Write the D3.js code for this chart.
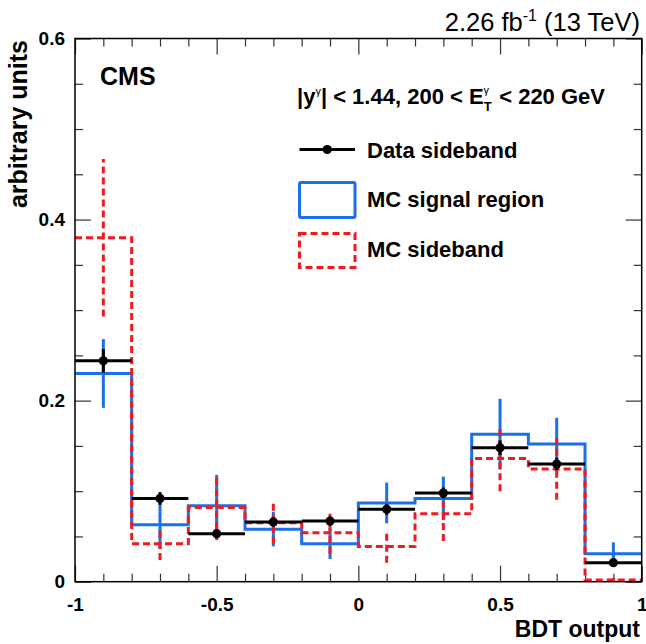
<!DOCTYPE html>
<html><head><meta charset="utf-8">
<script src="https://cdn.jsdelivr.net/npm/d3@7"></script>
<style>
html,body{margin:0;padding:0;background:#fff;}
svg{display:block;font-family:"Liberation Sans",Arial,Helvetica,sans-serif;}
</style></head>
<body>
<svg id="chart" width="646" height="644"></svg>
<script>
// ---- data ----
const binLow = [-1, -0.8, -0.6, -0.4, -0.2, 0, 0.2, 0.4, 0.6, 0.8];
const binWidth = 0.2;
const dataVals = [0.244, 0.092, 0.053, 0.066, 0.067, 0.080, 0.098, 0.148, 0.130, 0.021];
const dataErr  = [0.013, 0.007, 0.005, 0.005, 0.005, 0.006, 0.006, 0.008, 0.007, 0.004];
const sigVals  = [0.230, 0.063, 0.084, 0.058, 0.042, 0.087, 0.092, 0.163, 0.152, 0.031];
const sigErr   = [0.038, 0.027, 0.034, 0.019, 0.017, 0.0225, 0.024, 0.039, 0.029, 0.0125];
const sbVals   = [0.380, 0.042, 0.082, 0.065, 0.054, 0.039, 0.075, 0.136, 0.1245, 0.002];
const sbErr    = [0.087, 0.018, 0.036, 0.023, 0.023, 0.018, 0.030, 0.036, 0.034, 0.002];
const xMajorTicks = [-1, -0.5, 0, 0.5, 1];
const xMinorTicks = [-0.9,-0.8,-0.7,-0.6,-0.4,-0.3,-0.2,-0.1,0.1,0.2,0.3,0.4,0.6,0.7,0.8,0.9];
const yMajorTicks = [0, 0.2, 0.4, 0.6];
const yMinorTicks = [0.05,0.1,0.15,0.25,0.3,0.35,0.45,0.5,0.55];
const xTickLabels = ["-1", "-0.5", "0", "0.5", "1"];
const yTickLabels = ["0", "0.2", "0.4", "0.6"];

const BLUE = "#1a6fea", RED = "#ee1b22";

const svg = d3.select("#chart");
const L = 75, R = 641.7, T = 38.5, B = 581.7;
const x = d3.scaleLinear().domain([-1, 1]).range([L, R]);
const y = d3.scaleLinear().domain([0, 0.6]).range([B, T]);

// ---- axes ----
function styleAxis(g) {
  g.select(".domain").remove();
  g.selectAll(".tick line").attr("stroke", "#333").attr("stroke-width", 1.2);
  g.selectAll(".tick text").attr("font-weight", "bold").attr("font-size", 19)
    .attr("fill", "#000").attr("font-family", "Liberation Sans, Arial, sans-serif");
}
const bottomMajor = d3.axisBottom(x).tickValues(xMajorTicks).tickSize(-16).tickPadding(16)
  .tickFormat((d, i) => xTickLabels[i]);
svg.append("g").attr("transform", `translate(0,${B})`).call(bottomMajor).call(styleAxis);
svg.append("g").attr("transform", `translate(0,${B})`)
  .call(d3.axisBottom(x).tickValues(xMinorTicks).tickSize(-8).tickFormat("")).call(styleAxis);
svg.append("g").attr("transform", `translate(0,${T})`)
  .call(d3.axisTop(x).tickValues(xMajorTicks).tickSize(-16).tickFormat("")).call(styleAxis);
svg.append("g").attr("transform", `translate(0,${T})`)
  .call(d3.axisTop(x).tickValues(xMinorTicks).tickSize(-8).tickFormat("")).call(styleAxis);

const leftMajor = d3.axisLeft(y).tickValues(yMajorTicks).tickSize(-16).tickPadding(10)
  .tickFormat((d, i) => yTickLabels[i]);
svg.append("g").attr("transform", `translate(${L},0)`).call(leftMajor).call(styleAxis);
svg.append("g").attr("transform", `translate(${L},0)`)
  .call(d3.axisLeft(y).tickValues(yMinorTicks).tickSize(-8).tickFormat("")).call(styleAxis);
svg.append("g").attr("transform", `translate(${R},0)`)
  .call(d3.axisRight(y).tickValues(yMajorTicks).tickSize(-16).tickFormat("")).call(styleAxis);
svg.append("g").attr("transform", `translate(${R},0)`)
  .call(d3.axisRight(y).tickValues(yMinorTicks).tickSize(-8).tickFormat("")).call(styleAxis);

// ---- histograms ----
function stepPath(vals) {
  const pts = [];
  vals.forEach((v, i) => {
    pts.push([x(binLow[i]), y(v)]);
    pts.push([x(binLow[i] + binWidth), y(v)]);
  });
  return d3.line()(pts);
}
function drawHist(vals, errs, color, dash) {
  const g = svg.append("g");
  g.append("path").attr("d", stepPath(vals)).attr("fill", "none")
    .attr("stroke", color).attr("stroke-width", 3).attr("stroke-dasharray", dash)
    .attr("stroke-linejoin", "miter");
  g.selectAll("line.err").data(vals).join("line")
    .attr("x1", (d, i) => x(binLow[i] + binWidth / 2))
    .attr("x2", (d, i) => x(binLow[i] + binWidth / 2))
    .attr("y1", (d, i) => y(d - errs[i]))
    .attr("y2", (d, i) => y(d + errs[i]))
    .attr("stroke", color).attr("stroke-width", 3).attr("stroke-dasharray", dash);
}
drawHist(sigVals, sigErr, BLUE, null);
drawHist(sbVals, sbErr, RED, "7,4");

// ---- data points ----
const dg = svg.append("g");
dg.selectAll("line.h").data(dataVals).join("line")
  .attr("x1", (d, i) => x(binLow[i])).attr("x2", (d, i) => x(binLow[i] + binWidth))
  .attr("y1", d => y(d)).attr("y2", d => y(d))
  .attr("stroke", "#000").attr("stroke-width", 3);
dg.selectAll("line.v").data(dataVals).join("line")
  .attr("x1", (d, i) => x(binLow[i] + binWidth / 2)).attr("x2", (d, i) => x(binLow[i] + binWidth / 2))
  .attr("y1", (d, i) => y(d - dataErr[i])).attr("y2", (d, i) => y(d + dataErr[i]))
  .attr("stroke", "#000").attr("stroke-width", 3);
dg.selectAll("circle").data(dataVals).join("circle")
  .attr("cx", (d, i) => x(binLow[i] + binWidth / 2)).attr("cy", d => y(d))
  .attr("r", 4.6).attr("fill", "#000");

// ---- frame ----
svg.append("rect").attr("x", L).attr("y", T).attr("width", R - L).attr("height", B - T)
  .attr("fill", "none").attr("stroke", "#000").attr("stroke-width", 1.5);

// ---- texts ----
svg.append("text").attr("x", 100).attr("y", 85).attr("font-weight", "bold")
  .attr("font-size", 25).text("CMS");

const lab = svg.append("text").attr("x", 297).attr("y", 104).attr("font-weight", "bold")
  .attr("font-size", 22);
lab.append("tspan").text("|y");
lab.append("tspan").attr("dy", -9).attr("font-size", 11).attr("font-weight", "normal").text("γ");
lab.append("tspan").attr("dy", 9).text("| < 1.44, 200 < E");
lab.append("tspan").attr("dy", 7).attr("font-size", 13).text("T");
lab.append("tspan").attr("dx", -8).attr("dy", -17).attr("font-size", 11).attr("font-weight", "normal").text("γ");
lab.append("tspan").attr("dy", 10).attr("dx", 4).text(" < 220 GeV");

const lum = svg.append("text").attr("x", 640).attr("y", 31).attr("text-anchor", "end")
  .attr("font-size", 25.5);
lum.append("tspan").text("2.26 fb");
lum.append("tspan").attr("dy", -10).attr("font-size", 16).text("-1");
lum.append("tspan").attr("dy", 10).text(" (13 TeV)");

svg.append("text").attr("x", 640).attr("y", 637).attr("text-anchor", "end")
  .attr("font-weight", "bold").attr("font-size", 23).text("BDT output");
svg.append("text").attr("transform", "translate(27,40) rotate(-90)").attr("text-anchor", "end")
  .attr("font-weight", "bold").attr("font-size", 25).text("arbitrary units");

// ---- legend ----
const lx1 = 299.5, lx2 = 355, ltx = 367;
svg.append("line").attr("x1", lx1).attr("x2", lx2).attr("y1", 149.5).attr("y2", 149.5)
  .attr("stroke", "#000").attr("stroke-width", 3);
svg.append("circle").attr("cx", (lx1 + lx2) / 2).attr("cy", 149.5).attr("r", 4.6).attr("fill", "#000");
svg.append("rect").attr("x", lx1).attr("y", 182.5).attr("width", lx2 - lx1).attr("height", 35)
  .attr("fill", "none").attr("stroke", BLUE).attr("stroke-width", 3).attr("rx", 1.5);
svg.append("rect").attr("x", lx1).attr("y", 233.5).attr("width", lx2 - lx1).attr("height", 34)
  .attr("fill", "none").attr("stroke", RED).attr("stroke-width", 3).attr("stroke-dasharray", "7,4");
const legTexts = ["Data sideband", "MC signal region", "MC sideband"];
const legY = [157.5, 207, 257];
legTexts.forEach((t, i) => {
  svg.append("text").attr("x", ltx).attr("y", legY[i]).attr("font-weight", "bold")
    .attr("font-size", 22).text(t);
});
</script>
</body></html>
